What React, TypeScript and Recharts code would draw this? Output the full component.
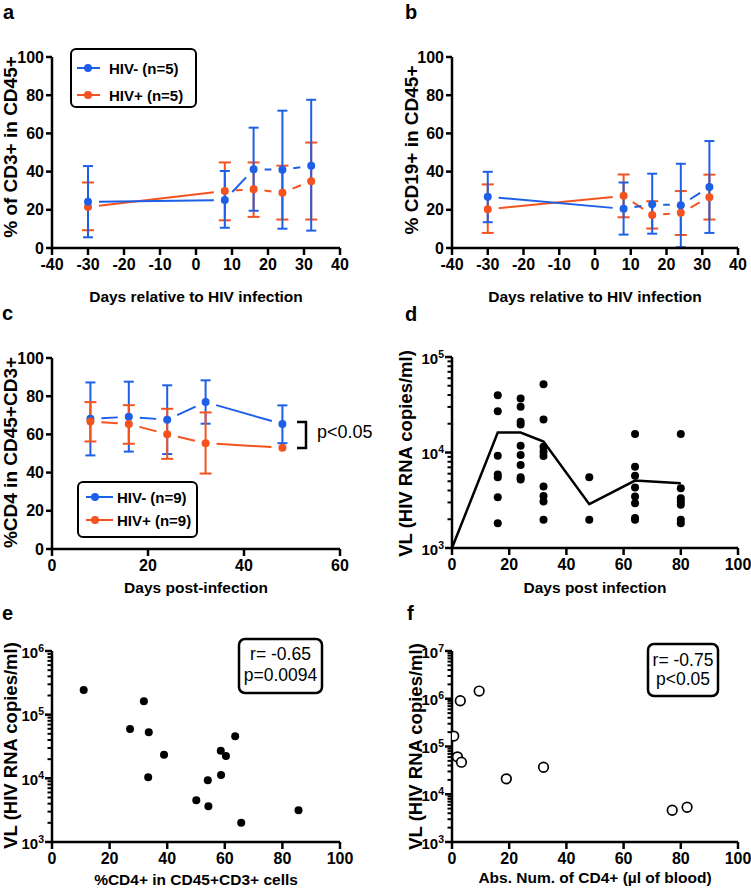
import React from 'react';
import { ComposedChart, Line, Scatter, XAxis, YAxis, ErrorBar, Legend } from 'recharts';

const FONT = '"Liberation Sans", Arial, Helvetica, sans-serif';
const INK = '#000000';
const BLUE = '#1e5fe8';
const RED = '#f4531f';

// a — % of CD3+ in CD45+ (mean with range) relative to infection day
const daysRelative = [-30, 8, 16, 24, 32];
const cd3NegMean = [24.2, 25.1, 41.2, 41.0, 43.1];
const cd3NegUpper = [42.9, 40.3, 63.0, 71.9, 77.6];
const cd3NegLower = [5.6, 10.6, 19.5, 10.1, 9.1];
const cd3PosMean = [21.5, 29.8, 30.8, 28.9, 35.0];
const cd3PosUpper = [34.3, 44.8, 44.8, 43.1, 55.2];
const cd3PosLower = [9.3, 14.5, 16.3, 14.9, 14.9];

// b — % CD19+ in CD45+
const cd19NegMean = [26.8, 20.5, 22.9, 22.4, 32.0];
const cd19NegUpper = [39.9, 34.3, 38.9, 44.1, 56.0];
const cd19NegLower = [13.5, 7.0, 7.5, 0.4, 7.9];
const cd19PosMean = [20.3, 27.3, 17.3, 18.4, 26.6];
const cd19PosUpper = [33.3, 38.5, 24.5, 29.8, 38.4];
const cd19PosLower = [7.9, 16.1, 10.2, 6.8, 14.9];

// c — %CD4 in CD45+CD3+ after infection
const daysPost = [8, 16, 24, 32, 48];
const cd4NegMean = [68.2, 69.2, 67.7, 76.9, 65.4];
const cd4NegUpper = [87.2, 87.6, 85.7, 88.3, 75.2];
const cd4NegLower = [49.0, 51.0, 49.7, 65.6, 55.4];
const cd4PosMean = [66.8, 65.4, 60.1, 55.4, 53.0];
const cd4PosUpper: (number | null)[] = [76.9, 75.3, 73.4, 71.5, null];
const cd4PosLower: (number | null)[] = [56.3, 55.1, 47.2, 39.5, null];

// d — viral load per sampling day, with the mean trace
const vlDays = [16, 24, 32, 48, 64, 80];
const vlDay16 = [39800, 27100, 9270, 5900, 5500, 3400, 1820];
const vlDay24 = [36700, 30100, 21000, 19700, 11800, 9400, 7400, 5500, 5200];
const vlDay32 = [51900, 22200, 11500, 10200, 9200, 4400, 3500, 3070, 1980];
const vlDay48 = [5500, 1980];
const vlDay64 = [15600, 7100, 5700, 4300, 3460, 2950, 2060, 1980];
const vlDay80 = [15600, 4230, 3320, 3070, 2830, 1980, 1820];
const vlMeanDays = [0, 16, 24, 32, 48, 64, 80];
const vlMeanValues = [1000, 16200, 16200, 13000, 2880, 5080, 4770];

// e — viral load vs %CD4+
const cd4Percent = [11.0, 31.9, 27.1, 33.6, 38.9, 33.4, 54.1, 58.6, 60.4, 63.6, 58.7, 50.1, 54.3, 65.7, 85.6];
const vlVsPercent = [243000, 163000, 59300, 53100, 23400, 10400, 9330, 27000, 22500, 46000, 11300, 4530, 3640, 2015, 3150];

// f — viral load vs absolute CD4+ count
const cd4Absolute = [9.5, 2.9, 0.6, 1.9, 3.3, 32.0, 19.0, 77.0, 82.2];
const vlVsAbsolute = [1449000, 908000, 165000, 60700, 46900, 36800, 21000, 4620, 5340];

// tick labels
const relTicks = [-40, -30, -20, -10, 0, 10, 20, 30, 40];
const postTicks = [0, 20, 40, 60];
const pctTicks = [0, 20, 40, 60, 80, 100];
const dayTicks = [0, 20, 40, 60, 80, 100];

const NEG5 = 'HIV- (n=5)';
const POS5 = 'HIV+ (n=5)';
const NEG9 = 'HIV- (n=9)';
const POS9 = 'HIV+ (n=9)';

type Pt = { x: number; y: number; err?: [number, number] | null };

function withRange(xs: number[], mean: number[], lower: (number | null)[], upper: (number | null)[]): Pt[] {
  return xs.map((x, i) => {
    const lo = lower[i];
    const hi = upper[i];
    return { x, y: mean[i], err: lo == null || hi == null ? null : [mean[i] - lo, hi - mean[i]] };
  });
}

function pairs(xs: number[], ys: number[]): Pt[] {
  return xs.map((x, i) => ({ x, y: ys[i] }));
}

function decadeTicks(fromExp: number, toExp: number): number[] {
  const out: number[] = [];
  for (let e = fromExp; e < toExp; e++) {
    for (let m = 1; m <= 9; m++) out.push(m * Math.pow(10, e));
  }
  out.push(Math.pow(10, toExp));
  return out;
}

const vlScatterRows: Pt[] = [vlDay16, vlDay24, vlDay32, vlDay48, vlDay64, vlDay80].flatMap((vals, i) =>
  vals.map((v) => ({ x: vlDays[i], y: v }))
);

const TICK_FS = 16;
const axisStroke = { stroke: INK, strokeWidth: 2.5 };
const Y_TICK_SIZE = 6;
const Y_TICK_MARGIN = 2;
const LINE_GAP = 11;

const tickTextStyle: React.CSSProperties = {
  fontFamily: FONT,
  fontWeight: 'bold',
  fontSize: `${TICK_FS}px`,
  fill: INK,
};

function AxisTitle({ tx, ty, caption, fs = 15.5, vertical = false }: any) {
  return (
    <text
      x={tx}
      y={ty}
      textAnchor="middle"
      transform={vertical ? `rotate(-90 ${tx} ${ty})` : undefined}
      style={{ fontFamily: FONT, fontWeight: 700, fontSize: `${fs}px`, fill: INK }}
    >
      {caption}
    </text>
  );
}

// Bold numeric tick labels
function XTick(props: any) {
  const { x, y, payload } = props;
  return (
    <text x={x} y={y + 11} textAnchor="middle" style={tickTextStyle}>
      {payload.value}
    </text>
  );
}

function YTick(props: any) {
  const { x, y, payload } = props;
  return (
    <text x={x} y={y + 5.5} textAnchor="end" style={tickTextStyle}>
      {payload.value}
    </text>
  );
}

// Log-axis tick: labelled decades, short unlabelled minor ticks.
function LogTick(props: any) {
  const { x, y, payload } = props;
  const v = Number(payload.value);
  const exp = Math.round(Math.log10(v));
  const major = Math.abs(v - Math.pow(10, exp)) < 1e-6 * v;
  const axisX = x + Y_TICK_SIZE + Y_TICK_MARGIN;
  return (
    <g>
      <line x1={axisX} x2={axisX - (major ? 7 : 4.5)} y1={y} y2={y} stroke={INK} strokeWidth={major ? 2.5 : 2} />
      {major && (
        <text x={axisX - 8} y={y + 6.5} textAnchor="end" style={{ ...tickTextStyle, fontSize: '15px' }}>
          10
          <tspan dy={-6} style={{ fontSize: '10.5px' }}>
            {exp}
          </tspan>
        </text>
      )}
    </g>
  );
}

// Marker plus a connector to the next point that stops short of both markers.
function gappedDot(color: string) {
  return (props: any) => {
    const { cx, cy, index, points } = props;
    const next = points ? points[index + 1] : null;
    let seg = null;
    if (next && next.x != null && next.y != null) {
      const dx = next.x - cx;
      const dy = next.y - cy;
      const len = Math.hypot(dx, dy);
      if (len > 2 * LINE_GAP) {
        const ux = dx / len;
        const uy = dy / len;
        seg = (
          <line
            x1={cx + ux * LINE_GAP}
            y1={cy + uy * LINE_GAP}
            x2={next.x - ux * LINE_GAP}
            y2={next.y - uy * LINE_GAP}
            stroke={color}
            strokeWidth={2}
          />
        );
      }
    }
    return (
      <g key={`pt-${index}`}>
        {seg}
        <circle cx={cx} cy={cy} r={4} fill={color} />
      </g>
    );
  };
}

type LegendCfg = {
  left: number;
  top: number;
  width: number;
  height: number;
  rows: number[];
  lineX: [number, number];
  dotX: number;
  textX: number;
};

function LegendBox({ payload, order, cfg }: any) {
  const c = cfg as LegendCfg;
  const list = (order as string[])
    .map((n) => (payload || []).find((p: any) => p.value === n))
    .filter(Boolean);
  return (
    <div
      style={{
        position: 'relative',
        boxSizing: 'border-box',
        width: c.width,
        height: c.height,
        border: `2px solid ${INK}`,
        borderRadius: 6,
        background: '#fff',
      }}
    >
      <svg width={c.width - 4} height={c.height - 4} style={{ position: 'absolute', left: 0, top: 0 }}>
        {list.map((it: any, i: number) => {
          const cy = c.rows[i] - 2;
          return (
            <g key={it.value}>
              <line x1={c.lineX[0] - 2} x2={c.lineX[1] - 2} y1={cy} y2={cy} stroke={it.color} strokeWidth={2} />
              <circle cx={c.dotX - 2} cy={cy} r={4} fill={it.color} />
              <text x={c.textX - 2} y={cy + 5.5} style={{ fontFamily: FONT, fontWeight: 700, fontSize: '15px', fill: INK }}>
                {it.value}
              </text>
            </g>
          );
        })}
      </svg>
    </div>
  );
}

type Series = { name: string; color: string; cap: number; rows: Pt[] };

type CourseProps = {
  left: number;
  top: number;
  width: number;
  height: number;
  margin: { top: number; right: number; bottom: number; left: number };
  xDomain: [number, number];
  xTicks: number[];
  xTitle: [string, number, number];
  yTitle: [string, number, number];
  series: Series[];
  legend?: { cfg: LegendCfg; order: string[] };
};

function CoursePanel(p: CourseProps) {
  return (
    <div style={{ position: 'absolute', left: p.left, top: p.top }}>
      <ComposedChart width={p.width} height={p.height} margin={p.margin}>
        <XAxis
          type="number"
          dataKey="x"
          domain={p.xDomain}
          ticks={p.xTicks}
          interval={0}
          allowDataOverflow
          height={30}
          axisLine={axisStroke}
          tickLine={axisStroke}
          tickSize={7}
          tickMargin={4}
          tick={(tp: any) => <XTick {...tp} />}
          label={<AxisTitle tx={p.xTitle[1]} ty={p.xTitle[2]} caption={p.xTitle[0]} />}
        />
        <YAxis
          type="number"
          dataKey="y"
          domain={[0, 100]}
          ticks={pctTicks}
          interval={0}
          allowDataOverflow
          width={44}
          axisLine={axisStroke}
          tickLine={axisStroke}
          tickSize={Y_TICK_SIZE}
          tickMargin={Y_TICK_MARGIN}
          tick={(tp: any) => <YTick {...tp} />}
          label={<AxisTitle tx={p.yTitle[1]} ty={p.yTitle[2]} caption={p.yTitle[0]} fs={19} vertical />}
        />
        {p.legend && (
          <Legend
            layout="vertical"
            align="center"
            verticalAlign="middle"
            wrapperStyle={{
              left: p.legend.cfg.left,
              top: p.legend.cfg.top,
              width: p.legend.cfg.width,
              height: p.legend.cfg.height,
              margin: 0,
              padding: 0,
            }}
            content={(lp: any) => <LegendBox payload={lp.payload} order={p.legend!.order} cfg={p.legend!.cfg} />}
          />
        )}
        {p.series.map((s) => (
          <Line
            key={s.name}
            name={s.name}
            data={s.rows}
            dataKey="y"
            stroke={s.color}
            strokeWidth={0}
            dot={gappedDot(s.color)}
            activeDot={false}
            isAnimationActive={false}
          >
            <ErrorBar dataKey="err" width={s.cap} stroke={s.color} strokeWidth={2} direction="y" isAnimationActive={false} />
          </Line>
        ))}
      </ComposedChart>
    </div>
  );
}

type LogProps = {
  left: number;
  top: number;
  width: number;
  height: number;
  margin: { top: number; right: number; bottom: number; left: number };
  yExp: [number, number];
  xTitle: [string, number, number];
  yTitle: [string, number, number];
  children: React.ReactNode;
};

function LogPanel(p: LogProps) {
  return (
    <div style={{ position: 'absolute', left: p.left, top: p.top }}>
      <ComposedChart width={p.width} height={p.height} margin={p.margin}>
        <XAxis
          type="number"
          dataKey="x"
          domain={[0, 100]}
          ticks={dayTicks}
          interval={0}
          allowDataOverflow
          height={30}
          axisLine={axisStroke}
          tickLine={axisStroke}
          tickSize={7}
          tickMargin={4}
          tick={(tp: any) => <XTick {...tp} />}
          label={<AxisTitle tx={p.xTitle[1]} ty={p.xTitle[2]} caption={p.xTitle[0]} />}
        />
        <YAxis
          type="number"
          dataKey="y"
          scale="log"
          domain={[Math.pow(10, p.yExp[0]), Math.pow(10, p.yExp[1])]}
          ticks={decadeTicks(p.yExp[0], p.yExp[1])}
          interval={0}
          allowDataOverflow
          width={44}
          axisLine={axisStroke}
          tickLine={false}
          tickSize={Y_TICK_SIZE}
          tickMargin={Y_TICK_MARGIN}
          tick={(tp: any) => <LogTick {...tp} />}
          label={<AxisTitle tx={p.yTitle[1]} ty={p.yTitle[2]} caption={p.yTitle[0]} fs={18.5} vertical />}
        />
        {p.children}
      </ComposedChart>
    </div>
  );
}

const filledDot = (props: any) => <circle cx={props.cx} cy={props.cy} r={4} fill={INK} />;
const openDot = (props: any) => <circle cx={props.cx} cy={props.cy} r={4.8} fill="#fff" stroke={INK} strokeWidth={1.7} />;

const legendA: LegendCfg = { left: 70, top: 48, width: 127, height: 60, rows: [20, 47], lineX: [7, 30], dotX: 18, textX: 39 };
const legendC: LegendCfg = { left: 77, top: 181, width: 121, height: 57, rows: [16, 39], lineX: [9, 36], dotX: 18, textX: 40 };

const letterStyle: React.CSSProperties = { fontFamily: FONT, fontWeight: 700, fontSize: '20px', fill: INK };
const noteStyle: React.CSSProperties = { fontFamily: FONT, fontWeight: 400, fontSize: '17.5px', fill: INK };

export default function App() {
  return (
    <div style={{ position: 'absolute', left: 0, top: 0, width: 751, height: 892, background: '#fff', overflow: 'hidden' }}>
      <CoursePanel
        left={0}
        top={0}
        width={375}
        height={305}
        margin={{ top: 57, right: 35, bottom: 27, left: 8 }}
        xDomain={[-40, 40]}
        xTicks={relTicks}
        xTitle={['Days relative to HIV infection', 196, 302]}
        yTitle={['% of CD3+ in CD45+', 16.5, 147]}
        series={[
          { name: POS5, color: RED, cap: 6, rows: withRange(daysRelative, cd3PosMean, cd3PosLower, cd3PosUpper) },
          { name: NEG5, color: BLUE, cap: 5, rows: withRange(daysRelative, cd3NegMean, cd3NegLower, cd3NegUpper) },
        ]}
        legend={{ cfg: legendA, order: [NEG5, POS5] }}
      />
      <CoursePanel
        left={375}
        top={0}
        width={376}
        height={305}
        margin={{ top: 57, right: 13, bottom: 27, left: 33 }}
        xDomain={[-40, 40]}
        xTicks={relTicks}
        xTitle={['Days relative to HIV infection', 220, 302]}
        yTitle={['% CD19+ in CD45+', 43, 150]}
        series={[
          { name: POS5, color: RED, cap: 6, rows: withRange(daysRelative, cd19PosMean, cd19PosLower, cd19PosUpper) },
          { name: NEG5, color: BLUE, cap: 5, rows: withRange(daysRelative, cd19NegMean, cd19NegLower, cd19NegUpper) },
        ]}
      />
      <CoursePanel
        left={0}
        top={300}
        width={375}
        height={300}
        margin={{ top: 58, right: 35, bottom: 21, left: 8 }}
        xDomain={[0, 60]}
        xTicks={postTicks}
        xTitle={['Days post-infection', 196, 293]}
        yTitle={['%CD4 in CD45+CD3+', 16.5, 152.5]}
        series={[
          { name: NEG9, color: BLUE, cap: 5, rows: withRange(daysPost, cd4NegMean, cd4NegLower, cd4NegUpper) },
          { name: POS9, color: RED, cap: 6, rows: withRange(daysPost, cd4PosMean, cd4PosLower, cd4PosUpper) },
        ]}
        legend={{ cfg: legendC, order: [NEG9, POS9] }}
      />
      <LogPanel
        left={375}
        top={300}
        width={376}
        height={300}
        margin={{ top: 57, right: 13, bottom: 22, left: 33 }}
        yExp={[3, 5]}
        xTitle={['Days post infection', 220, 293]}
        yTitle={['VL (HIV RNA copies/ml)', 37, 153.5]}
      >
        <Line
          data={pairs(vlMeanDays, vlMeanValues)}
          dataKey="y"
          stroke={INK}
          strokeWidth={2.5}
          dot={false}
          activeDot={false}
          isAnimationActive={false}
        />
        <Scatter data={vlScatterRows} dataKey="y" shape={filledDot} isAnimationActive={false} />
      </LogPanel>
      <LogPanel
        left={0}
        top={600}
        width={375}
        height={292}
        margin={{ top: 51, right: 35, bottom: 20, left: 8 }}
        yExp={[3, 6]}
        xTitle={['%CD4+ in CD45+CD3+ cells', 196, 285]}
        yTitle={['VL (HIV RNA copies/ml)', 17, 145.5]}
      >
        <Scatter data={pairs(cd4Percent, vlVsPercent)} dataKey="y" shape={filledDot} isAnimationActive={false} />
      </LogPanel>
      <LogPanel
        left={375}
        top={600}
        width={376}
        height={292}
        margin={{ top: 51, right: 13, bottom: 20, left: 33 }}
        yExp={[3, 7]}
        xTitle={['Abs. Num. of CD4+ (\u00b5l of blood)', 220, 283]}
        yTitle={['VL (HIV RNA copies/ml)', 47, 146.5]}
      >
        <Scatter data={pairs(cd4Absolute, vlVsAbsolute)} dataKey="y" shape={openDot} isAnimationActive={false} />
      </LogPanel>

      <svg width={751} height={892} style={{ position: 'absolute', left: 0, top: 0, pointerEvents: 'none' }}>
        <text x={3} y={19} style={letterStyle}>a</text>
        <text x={405} y={19} style={letterStyle}>b</text>
        <text x={2} y={320} style={letterStyle}>c</text>
        <text x={405} y={321} style={letterStyle}>d</text>
        <text x={2} y={620} style={letterStyle}>e</text>
        <text x={407} y={620} style={letterStyle}>f</text>

        <path d="M297 422 H306 V448 H297" fill="none" stroke={INK} strokeWidth={2.5} />
        <text x={317} y={438} style={{ ...noteStyle, fontSize: '18px' }}>{'p<0.05'}</text>

        <rect x={239} y={639} width={83} height={54} rx={6} fill="#fff" stroke={INK} strokeWidth={2.5} />
        <text x={280.5} y={660} textAnchor="middle" style={noteStyle}>r= -0.65</text>
        <text x={280.5} y={680.5} textAnchor="middle" style={noteStyle}>p=0.0094</text>

        <rect x={648} y={644} width={70} height={52} rx={6} fill="#fff" stroke={INK} strokeWidth={2.5} />
        <text x={683} y={666} textAnchor="middle" style={noteStyle}>r= -0.75</text>
        <text x={683} y={684.5} textAnchor="middle" style={noteStyle}>{'p<0.05'}</text>
      </svg>
    </div>
  );
}
